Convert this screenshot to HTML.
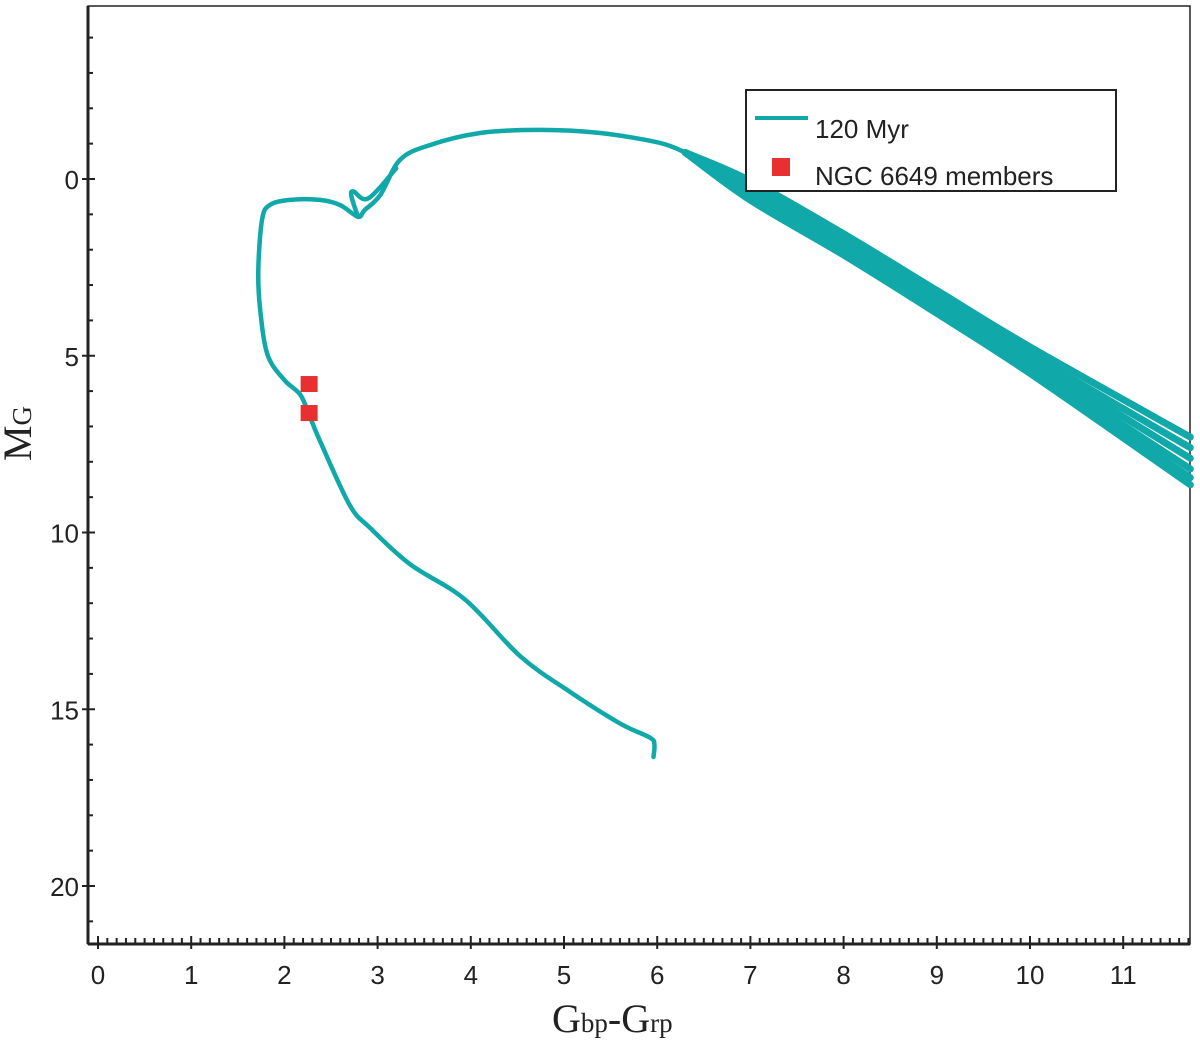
<!DOCTYPE html>
<html><head><meta charset="utf-8"><style>
body{margin:0;background:#fff}
svg{display:block}
text{font-family:"Liberation Sans",sans-serif}
</style></head><body>
<svg id="chart" width="1200" height="1045"></svg>
<script>
const isoX=[5.96,5.97,5.92,5.6,5.06,4.53,3.94,3.35,2.92,2.70,2.38,2.27,2.17,2.0,1.82,1.74,1.72,1.76,1.84,2.06,2.38,2.6,2.79,2.86,3.03,3.24,3.56,4.1,4.74,5.39,6.03,6.3];
const isoY=[16.35,16.0,15.8,15.4,14.5,13.5,11.9,10.9,9.87,9.22,7.4,6.7,6.1,5.69,4.98,3.7,2.57,1.16,0.74,0.59,0.59,0.74,1.07,0.88,0.45,-0.54,-0.96,-1.3,-1.39,-1.3,-1.02,-0.75];
const tailX=[6.3,7,8,9,10,11.72];
const tailY1=[-0.75,0.05,1.55,3.15,4.75,7.3];
const tailY2=[-0.75,0.15,1.7,3.3,4.95,7.6];
const tailY3=[-0.75,0.3,1.85,3.45,5.1,7.9];
const tailY4=[-0.75,0.4,1.95,3.6,5.25,8.2];
const tailY5=[-0.75,0.5,2.05,3.7,5.4,8.45];
const tailY6=[-0.75,0.6,2.15,3.8,5.5,8.65];
const hookX=[2.79,2.72,2.74,2.9,3.2];
const hookY=[1.07,0.5,0.35,0.55,-0.3];
const memX=[2.26,2.26];
const memY=[5.8,6.62];
const xTicks=[0,1,2,3,4,5,6,7,8,9,10,11];
const yTicks=[0,5,10,15,20];
const NS='http://www.w3.org/2000/svg';
const svg=document.getElementById('chart');
const sx=v=>98+93.2*v, sy=v=>179+35.35*v;
const L=88,R=1190,T=6,B=944;
function el(t,a,p){const e=document.createElementNS(NS,t);for(const k in a)e.setAttribute(k,a[k]);(p||svg).appendChild(e);return e;}
const frame=el('rect',{x:L,y:T,width:R-L,height:B-T,fill:'none',stroke:'#222','stroke-width':1.5});


el('line',{x1:L,y1:B,x2:R,y2:B,stroke:'#222','stroke-width':3});
el('line',{x1:L,y1:T,x2:L,y2:B,stroke:'#222','stroke-width':3});
for(let i=0;i<=117;i++){const x=sx(i/10);if(x>R)break;const major=i%10===0;
 el('line',{x1:x,y1:B+(major?5:0),x2:x,y2:B-(major?8:6),stroke:'#222','stroke-width':2});}
for(const t of xTicks){const tx=el('text',{x:sx(t),y:984,'font-size':26,'text-anchor':'middle',fill:'#222'});tx.textContent=t;
 
 }
for(let v=-4;v<=21;v++){const y=sy(v);const major=v%5===0;
 el('line',{x1:L-(major?6:0),y1:y,x2:L+(major?7:5),y2:y,stroke:'#222','stroke-width':2});}
for(const t of yTicks){const tx=el('text',{x:79,y:sy(t)+10,'font-size':26,'text-anchor':'end',fill:'#222'});tx.textContent=t;
 
 }
function smooth(xs,ys){const P=xs.map((x,i)=>[sx(x),sy(ys[i])]);let d='M'+P[0][0].toFixed(1)+','+P[0][1].toFixed(1);
 for(let i=0;i<P.length-1;i++){const p0=P[i-1]||P[i],p1=P[i],p2=P[i+1],p3=P[i+2]||p2;const k=1/6;
  d+='C'+(p1[0]+(p2[0]-p0[0])*k).toFixed(1)+','+(p1[1]+(p2[1]-p0[1])*k).toFixed(1)+' '+(p2[0]-(p3[0]-p1[0])*k).toFixed(1)+','+(p2[1]-(p3[1]-p1[1])*k).toFixed(1)+' '+p2[0].toFixed(1)+','+p2[1].toFixed(1);}
 return d;}
function line(xs,ys,name,w){
 const p=el('path',{d:smooth(xs,ys),fill:'none',stroke:'#10a8a8','stroke-width':w||4.5,'stroke-linejoin':'round','stroke-linecap':'round'});
 
 }
line(isoX,isoY,'isochrone-120myr');
line(hookX,hookY,'isochrone-hook');
[tailY1,tailY2,tailY3,tailY4,tailY5,tailY6].forEach(ty=>line(tailX,ty,'isochrone-tail',7));
memX.forEach((x,i)=>{const r=el('rect',{x:sx(x)-8,y:sy(memY[i])-8,width:17,height:16,fill:'#e83030'});
 
 });
const lg=el('g',{});


el('rect',{x:746,y:90,width:370,height:101,fill:'#fff',stroke:'#222','stroke-width':2},lg);
el('line',{x1:755,y1:118,x2:808,y2:118,stroke:'#10a8a8','stroke-width':4},lg);
const t1=el('text',{x:815,y:138,'font-size':26,fill:'#222'},lg);t1.textContent='120 Myr';
el('rect',{x:772,y:158,width:18,height:18,fill:'#e83030'},lg);
const t2=el('text',{x:815,y:185,'font-size':26,fill:'#222'},lg);t2.textContent='NGC 6649 members';
</script>
<div style="position:absolute;left:552px;top:995px;font-family:'Liberation Serif',serif;font-size:40px;color:#222">G<span style="font-size:27px">bp</span>-G<span style="font-size:27px">rp</span></div>
<div style="position:absolute;left:-10px;top:410px;transform:rotate(-90deg);font-family:'Liberation Serif',serif;font-size:40px;color:#222">M<span style="font-size:27px">G</span></div>
</body></html>
